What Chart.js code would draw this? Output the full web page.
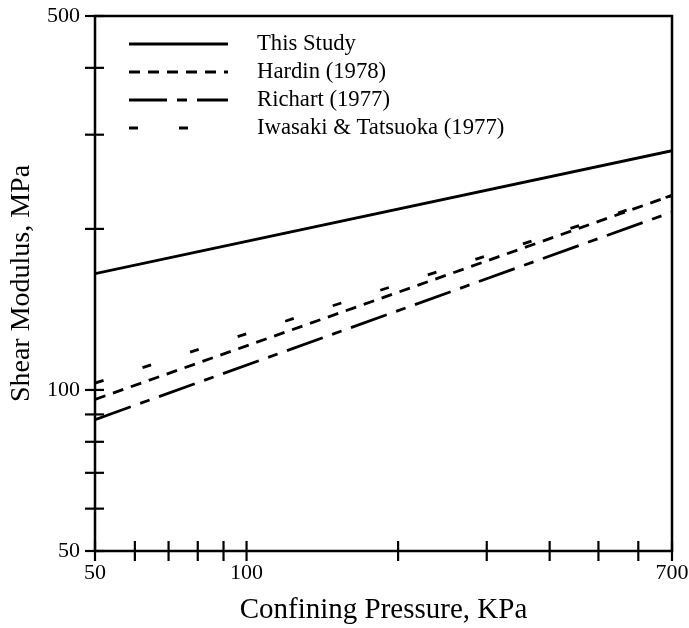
<!DOCTYPE html>
<html>
<head>
<meta charset="utf-8">
<script src="https://cdn.jsdelivr.net/npm/chart.js@4"></script>
<style>
  body { margin: 0; background: #fff; }
  #grafico { display: block; }
</style>
</head>
<body>
<canvas id="grafico" width="689" height="628"></canvas>
<script>
// valores (escala log-log)
const pressoes = [50, 700];
const esteEstudo = [165, 280];
const hardin = [96, 231];
const richart = [88, 215];
const iwasaki = [103, 231];

const nomesSeries = ['This Study', 'Hardin (1978)', 'Richart (1977)', 'Iwasaki & Tatsuoka (1977)'];

const ticksX = [50, 60, 70, 80, 90, 100, 200, 300, 400, 500, 600, 700];
const ticksY = [50, 60, 70, 80, 90, 100, 200, 300, 400, 500];
const rotulosX = [50, 100, 700];
const rotulosY = [50, 100, 500];

const FONTE = '"Liberation Serif", "Times New Roman", serif';

function pontos(valores) {
  return pressoes.map((p, i) => ({ x: p, y: valores[i] }));
}

function serie(nome, valores, tracejado) {
  return {
    label: nome,
    data: pontos(valores),
    borderColor: '#000',
    borderWidth: 2.8,
    borderDash: tracejado,
    pointRadius: 0,
    tension: 0,
    fill: false
  };
}

// moldura + marcas de escala cruzando os eixos
const molduraPlugin = {
  id: 'moldura',
  afterDraw(chart) {
    const { ctx, chartArea: a, scales } = chart;
    ctx.save();
    ctx.strokeStyle = '#000';
    ctx.lineWidth = 2.5;
    ctx.setLineDash([]);
    ctx.strokeRect(a.left, a.top, a.right - a.left, a.bottom - a.top);

    ctx.lineWidth = 2.2;
    ticksX.forEach(v => {
      const px = scales.x.getPixelForValue(v);
      ctx.beginPath();
      ctx.moveTo(px, a.bottom - 10);
      ctx.lineTo(px, a.bottom + 10);
      ctx.stroke();
    });
    ticksY.forEach(v => {
      const py = scales.y.getPixelForValue(v);
      ctx.beginPath();
      ctx.moveTo(a.left - 10, py);
      ctx.lineTo(a.left + 9, py);
      ctx.stroke();
    });
    ctx.restore();
  }
};

// legenda desenhada dentro da área do gráfico
const legendaPlugin = {
  id: 'legendaInterna',
  afterDatasetsDraw(chart) {
    const { ctx } = chart;
    const x0 = 129, x1 = 228, xTexto = 257;
    const linhasY = [44, 72, 100, 128];
    ctx.save();
    chart.data.datasets.forEach((ds, i) => {
      const y = linhasY[i];
      ctx.strokeStyle = '#000';
      ctx.lineWidth = 2.8;
      ctx.setLineDash(ds.borderDash || []);
      ctx.beginPath();
      ctx.moveTo(x0, y);
      ctx.lineTo(x1, y);
      ctx.stroke();
      ctx.setLineDash([]);
      ctx.fillStyle = '#000';
      ctx.font = '22.7px ' + FONTE;
      ctx.textBaseline = 'middle';
      ctx.textAlign = 'left';
      ctx.fillText(ds.label, xTexto, y);
    });
    ctx.restore();
  }
};

const ctx = document.getElementById('grafico').getContext('2d');
new Chart(ctx, {
  type: 'line',
  data: {
    datasets: [
      serie(nomesSeries[0], esteEstudo, []),
      serie(nomesSeries[1], hardin, [11, 8]),
      serie(nomesSeries[2], richart, [38, 10, 10, 10]),
      serie(nomesSeries[3], iwasaki, [9, 41])
    ]
  },
  options: {
    responsive: false,
    animation: false,
    layout: { padding: { top: 16, right: 17, bottom: 0, left: 0 } },
    plugins: {
      legend: { display: false },
      tooltip: { enabled: false }
    },
    scales: {
      x: {
        type: 'logarithmic',
        min: 50,
        max: 700,
        afterBuildTicks: (scale) => { scale.ticks = ticksX.map(v => ({ value: v })); },
        afterFit: (scale) => {
          scale.height = 77;
          scale.paddingLeft = 0;
          scale.paddingRight = 0;
        },
        grid: { display: false, drawTicks: false },
        border: { display: false },
        ticks: {
          autoSkip: false,
          maxRotation: 0,
          padding: 9,
          color: '#000',
          font: { family: FONTE, size: 22 },
          callback: (value) => rotulosX.includes(value) ? String(value) : ''
        },
        title: {
          display: true,
          text: 'Confining Pressure, KPa',
          color: '#000',
          font: { family: FONTE, size: 29 },
          padding: { top: 0, bottom: 0 }
        }
      },
      y: {
        type: 'logarithmic',
        min: 50,
        max: 500,
        afterBuildTicks: (scale) => { scale.ticks = ticksY.map(v => ({ value: v })); },
        afterFit: (scale) => {
          scale.width = 95;
          scale.paddingTop = 0;
          scale.paddingBottom = 0;
        },
        grid: { display: false, drawTicks: false },
        border: { display: false },
        ticks: {
          autoSkip: false,
          padding: 15,
          color: '#000',
          font: { family: FONTE, size: 22 },
          callback: (value) => rotulosY.includes(value) ? String(value) : ''
        },
        title: {
          display: true,
          text: 'Shear Modulus, MPa',
          color: '#000',
          font: { family: FONTE, size: 28 },
          padding: { top: 5, bottom: 0 }
        }
      }
    }
  },
  plugins: [molduraPlugin, legendaPlugin]
});
</script>
</body>
</html>
